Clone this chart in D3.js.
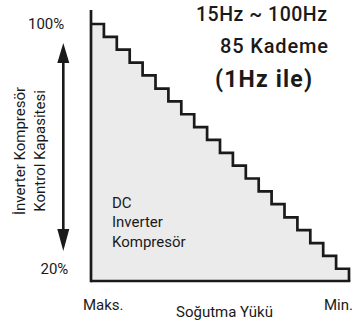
<!DOCTYPE html>
<html>
<head>
<meta charset="utf-8">
<script src="https://cdn.jsdelivr.net/npm/d3@7"></script>
<style>
  html, body { margin: 0; padding: 0; background: #fff; }
  svg { display: block; font-family: Roboto, "DejaVu Sans", sans-serif; }
</style>
</head>
<body>
<svg id="chart" width="353" height="320"></svg>
<script>
// Compressor capacity (%) at each load step, from maximum to minimum cooling load
const capacity = [100, 95.8, 91.6, 87.4, 83.2, 78.9, 74.7, 70.5, 66.3, 62.1,
                  57.9, 53.7, 49.5, 45.3, 41.1, 36.8, 32.6, 28.4, 24.2, 20];
const stepIndex = capacity.map((_, i) => i);
const capacityTicks = [100, 20];
const tickLabels = ["100%", "20%"];
const loadLabels = ["Maks.", "Min."];
const yTitle = ["İnverter Kompresör", "Kontrol Kapasitesi"];
const xTitle = "Soğutma Yükü";
const infoLines = ["15Hz ~ 100Hz", "85 Kademe", "(1Hz ile)"];
const innerLabel = ["DC", "Inverter", "Kompresör"];

const svg = d3.select("#chart");
const ink = "#1a1a1a";
const fs = 15;

const x = d3.scaleLinear().domain([0, capacity.length]).range([91, 349]);
const y = d3.scaleLinear().domain([16, 100]).range([281, 24]);

const pts = stepIndex.map(i => [i, capacity[i]]);
pts.push([capacity.length, capacity[capacity.length - 1]]);

// shaded area under the staircase
svg.append("path")
  .datum(pts)
  .attr("fill", "#ebebeb")
  .attr("d", d3.area().curve(d3.curveStepAfter)
    .x(d => x(d[0])).y0(y(16)).y1(d => y(d[1])));

// staircase outline, closing down to the base line
const linePts = pts.concat([[capacity.length, 16]]);
svg.append("path")
  .datum(linePts)
  .attr("fill", "none")
  .attr("stroke", ink)
  .attr("stroke-width", 2.7)
  .attr("stroke-linejoin", "miter")
  .attr("d", d3.line().curve(d3.curveStepAfter)
    .x(d => x(d[0])).y(d => y(d[1])));

// axes
svg.append("line")
  .attr("x1", x(0)).attr("x2", x(0))
  .attr("y1", 10).attr("y2", y(16) + 1.35)
  .attr("stroke", ink).attr("stroke-width", 2.7);
svg.append("line")
  .attr("x1", x(0)).attr("x2", x(capacity.length) + 1.35)
  .attr("y1", y(16)).attr("y2", y(16))
  .attr("stroke", ink).attr("stroke-width", 2.7);

// capacity tick labels
const tickX = [28, 40.5];
capacityTicks.forEach((v, i) => {
  svg.append("text")
    .attr("x", tickX[i]).attr("y", y(v) + 5)
    .attr("font-size", fs).attr("fill", ink)
    .text(tickLabels[i]);
});

// double-headed arrow
const ax = 63.3;
svg.append("line")
  .attr("x1", ax).attr("x2", ax).attr("y1", 60).attr("y2", 232)
  .attr("stroke", ink).attr("stroke-width", 2.6);
svg.append("path")
  .attr("fill", ink)
  .attr("d", `M${ax},43 L${ax - 6},63 L${ax + 6},63 Z`);
svg.append("path")
  .attr("fill", ink)
  .attr("d", `M${ax},251 L${ax - 6},229 L${ax + 6},229 Z`);

// rotated y-axis title
const yt = svg.append("text")
  .attr("transform", "translate(25,151) rotate(-90)")
  .attr("text-anchor", "middle")
  .attr("font-size", fs).attr("fill", ink);
yTitle.forEach((t, i) => {
  yt.append("tspan").attr("x", 0).attr("dy", i === 0 ? 0 : 20).text(t);
});

// x-axis end labels and title
svg.append("text").attr("x", 83).attr("y", 310)
  .attr("font-size", fs).attr("fill", ink).text(loadLabels[0]);
svg.append("text").attr("x", 353).attr("y", 310).attr("text-anchor", "end")
  .attr("font-size", fs).attr("fill", ink).text(loadLabels[1]);
svg.append("text").attr("x", 224.5).attr("y", 317).attr("text-anchor", "middle")
  .attr("font-size", fs).attr("fill", ink).text(xTitle);

// frequency range annotation
svg.append("text").attr("x", 196).attr("y", 20.7)
  .attr("font-size", 19.5).attr("font-weight", 500).attr("fill", ink)
  .attr("textLength", 131).text(infoLines[0]);
svg.append("text").attr("x", 220).attr("y", 53.3)
  .attr("font-size", 20).attr("font-weight", 500).attr("fill", ink)
  .attr("textLength", 108).text(infoLines[1]);
svg.append("text").attr("x", 215).attr("y", 87.3)
  .attr("font-size", 23).attr("font-weight", 700).attr("fill", ink)
  .attr("textLength", 97).text(infoLines[2]);

// label inside the shaded area
const il = svg.append("text").attr("font-size", fs).attr("fill", ink);
innerLabel.forEach((t, i) => {
  il.append("tspan").attr("x", 112).attr("y", 207.5 + i * 19.5).text(t);
});
</script>
</body>
</html>
